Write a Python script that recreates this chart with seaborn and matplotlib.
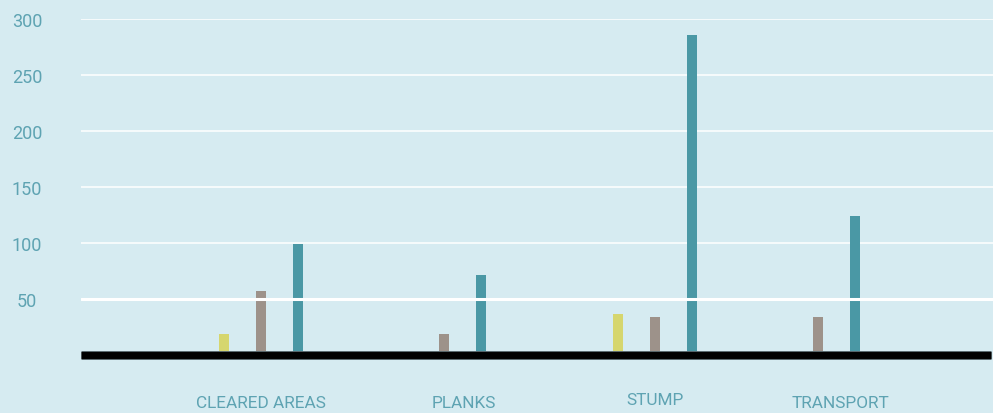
import numpy as np
import pandas as pd
import matplotlib
matplotlib.use("Agg")
import matplotlib.pyplot as plt
import matplotlib.transforms as mtransforms
import seaborn as sns

# Data
categories = ["CLEARED AREAS", "PLANKS", "STUMP", "TRANSPORT"]
series_names = ["A", "B", "C"]
series_a = [19, 0, 37, 0]
series_b = [57, 19, 34, 34]
series_c = [99, 71, 286, 124]
y_ticks = [50, 100, 150, 200, 250, 300]

# Layout (x in axis units, one unit per pixel)
group_centers = [180, 363, 574, 737]
label_centers = [179.5, 383, 574, 759]
label_y_px = [403.5, 403.5, 400.5, 403.5]
bar_offsets = [-37, 0, 37]
bar_px = 10

BG = "#d6ebf1"
TICK_COLOR = "#5ea3b2"
palette = {"A": "#d6d66e", "B": "#9d928a", "C": "#4a98a5"}

sns.set_theme(style="white")
plt.rcParams["font.family"] = ["Roboto", "DejaVu Sans"]

rows = []
for i, cat in enumerate(categories):
    for name, vals, off in zip(series_names, [series_a, series_b, series_c], bar_offsets):
        rows.append({"pos": group_centers[i] + off, "value": vals[i], "series": name})
df = pd.DataFrame(rows)

fig = plt.figure(figsize=(9.93, 4.14), dpi=100, facecolor=BG)
ax = fig.add_axes([81 / 993, 58 / 414, 912 / 993, 336 / 414])
ax.set_facecolor(BG)

min_gap = np.diff(np.sort(df["pos"].unique())).min()
sns.barplot(data=df, x="pos", y="value", hue="series", palette=palette,
            dodge=False, native_scale=True, width=bar_px / min_gap,
            saturation=1, linewidth=0, legend=False, ax=ax, zorder=2)

ax.set_xlim(0, 912)
ax.set_ylim(0, 300)

# gridlines: the 50 line sits on top of the bars and is heavier
for t in y_ticks:
    if t == 50:
        ax.axhline(t, color="white", lw=2.2, zorder=3)
    else:
        ax.axhline(t, color="white", lw=1.1, zorder=1)

# heavy baseline
ax.plot([0, 910], [0, 0], color="#56656a", lw=6.4, solid_capstyle="butt",
        zorder=4, clip_on=False)
ax.plot([0, 909.5], [0, 0], color="black", lw=5.0, solid_capstyle="butt",
        zorder=5, clip_on=False)

ax.set_yticks(y_ticks)
ax.set_yticklabels([str(t) for t in y_ticks], color=TICK_COLOR, fontsize=13,
                   ha="center")
ax.tick_params(axis="y", length=0, pad=39)
ax.set_xticks([])
ax.set_xlabel("")
ax.set_ylabel("")
for s in ax.spines.values():
    s.set_visible(False)

trans = mtransforms.blended_transform_factory(ax.transData, fig.transFigure)
for cat, xc, ypx in zip(categories, label_centers, label_y_px):
    ax.text(xc, 1 - ypx / 414, cat, transform=trans, ha="center", va="center",
            color=TICK_COLOR, fontsize=12.4)

fig.savefig("out.png", dpi=100, facecolor=BG)
